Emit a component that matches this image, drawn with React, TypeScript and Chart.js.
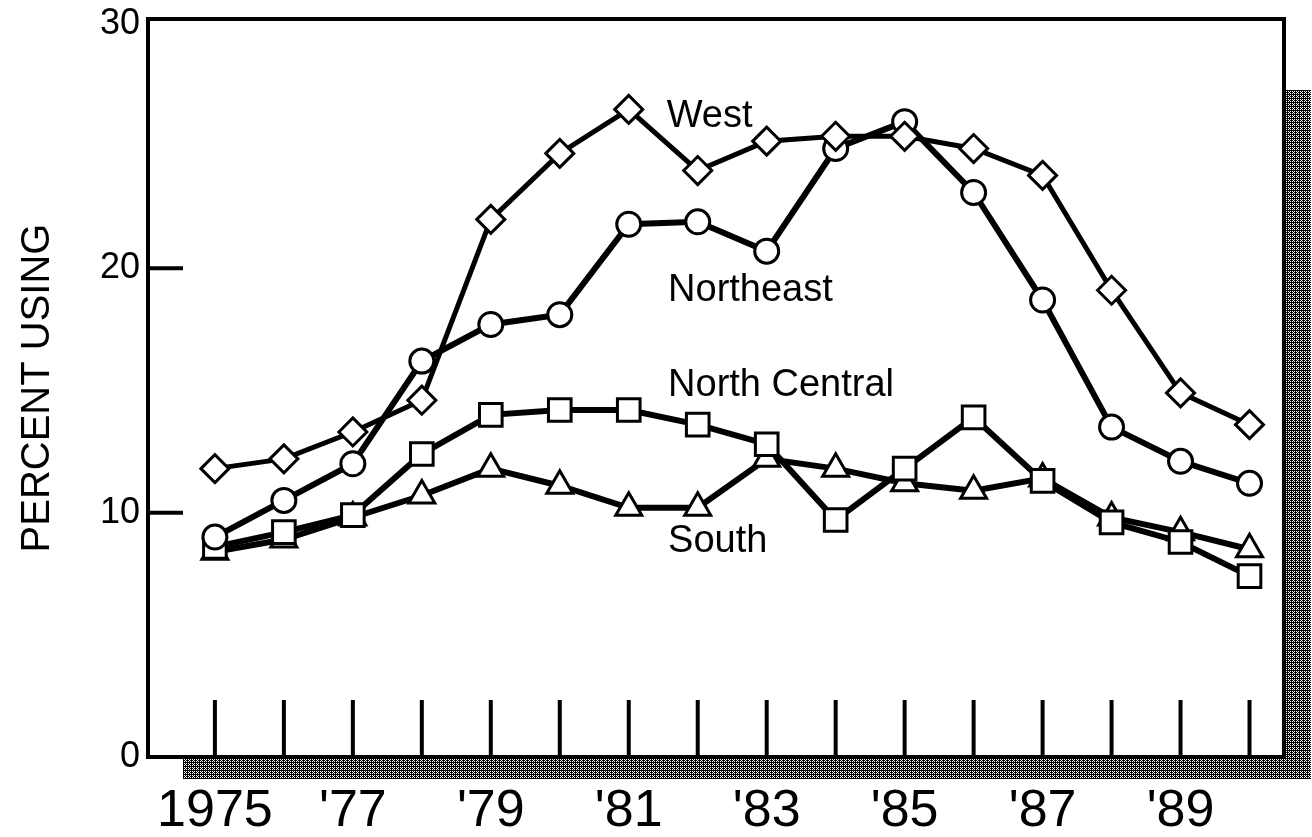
import React, { useEffect, useRef } from 'react';
import { Chart, registerables } from 'chart.js';

Chart.register(...registerables);

const FONT = '"Liberation Sans", Arial, Helvetica, sans-serif';

const years = [1975, 1976, 1977, 1978, 1979, 1980, 1981, 1982, 1983, 1984, 1985, 1986, 1987, 1988, 1989, 1990];
const west = [11.8, 12.2, 13.3, 14.6, 22.0, 24.7, 26.5, 24.0, 25.2, 25.4, 25.4, 24.9, 23.8, 19.1, 14.9, 13.6];
const northeast = [9.0, 10.5, 12.0, 16.2, 17.7, 18.1, 21.8, 21.9, 20.7, 24.9, 26.0, 23.1, 18.7, 13.5, 12.1, 11.2];
const northCentral = [8.6, 9.2, 9.9, 12.4, 14.0, 14.2, 14.2, 13.6, 12.8, 9.7, 11.8, 13.9, 11.3, 9.6, 8.8, 7.4];
const south = [8.4, 8.9, 9.8, 10.7, 11.8, 11.1, 10.2, 10.2, 12.2, 11.8, 11.2, 10.9, 11.4, 9.8, 9.2, 8.5];

const xTickLabels: Record<number, string> = {
  1975: '1975',
  1977: "'77",
  1979: "'79",
  1981: "'81",
  1983: "'83",
  1985: "'85",
  1987: "'87",
  1989: "'89",
};
const yInnerTicks = [10, 20];

const seriesNames = ['West', 'Northeast', 'North Central', 'South'];
const noteX = [1981.55, 1981.57, 1981.57, 1981.57];
const noteY = [26.2, 19.1, 15.2, 8.8];

const toPoints = (vals: number[]) => vals.map((v, i) => ({ x: years[i], y: v }));

export default function App() {
  const ref = useRef<HTMLCanvasElement | null>(null);

  useEffect(() => {
    if (!ref.current) return;

    const pc = document.createElement('canvas');
    pc.width = 4;
    pc.height = 4;
    const p = pc.getContext('2d')!;
    p.fillStyle = '#fff';
    p.fillRect(0, 0, 4, 4);
    p.fillStyle = '#000';
    for (let i = 0; i < 4; i++) {
      for (let j = 0; j < 4; j++) {
        if ((i + j) % 2 === 0 || (i === 1 && j === 2) || (i === 3 && j === 0) || (i === 3 && j === 2)) p.fillRect(i, j, 1, 1);
      }
    }

    const framePlugin = {
      id: 'framePlugin',
      beforeDraw(chart: any) {
        const { ctx, chartArea: a } = chart;
        ctx.save();
        ctx.fillStyle = '#fff';
        ctx.fillRect(0, 0, chart.width, chart.height);
        const pat = ctx.createPattern(pc, 'repeat');
        ctx.fillStyle = pat || '#666';
        ctx.fillRect(a.right, a.top + 71, 27, a.bottom - a.top - 71 + 22);
        ctx.fillRect(a.left + 35, a.bottom, a.right - a.left - 35 + 27, 22);
        ctx.restore();
      },
      beforeDatasetsDraw(chart: any) {
        const { ctx, chartArea: a, scales } = chart;
        const xs = scales.x;
        const ys = scales.y;
        ctx.save();
        ctx.strokeStyle = '#000';
        ctx.lineWidth = 4;
        ctx.lineCap = 'butt';
        xs.ticks.forEach((t: any) => {
          if (!Number.isInteger(t.value)) return;
          const x = xs.getPixelForValue(t.value);
          ctx.beginPath();
          ctx.moveTo(x, a.bottom);
          ctx.lineTo(x, a.bottom - 57);
          ctx.stroke();
        });
        yInnerTicks.forEach((v) => {
          const y = ys.getPixelForValue(v);
          ctx.beginPath();
          ctx.moveTo(a.left, y);
          ctx.lineTo(a.left + 35, y);
          ctx.stroke();
        });
        ctx.lineWidth = 4;
        ctx.lineJoin = 'miter';
        ctx.strokeRect(a.left, a.top, a.right - a.left, a.bottom - a.top);
        ctx.restore();
      },
      afterDatasetsDraw(chart: any) {
        const { ctx, scales } = chart;
        ctx.save();
        ctx.fillStyle = '#000';
        ctx.font = `38px ${FONT}`;
        ctx.textAlign = 'left';
        ctx.textBaseline = 'middle';
        seriesNames.forEach((name, i) => {
          ctx.fillText(name, scales.x.getPixelForValue(noteX[i]), scales.y.getPixelForValue(noteY[i]));
        });
        ctx.restore();
      },
    };

    const common = {
      borderColor: '#000',
      borderWidth: 6,
      pointBackgroundColor: '#fff',
      pointBorderColor: '#000',
      pointBorderWidth: 3,
      tension: 0,
      fill: false,
    };

    const chart = new Chart(ref.current, {
      type: 'line',
      data: {
        datasets: [
          { ...common, label: 'West', data: toPoints(west), pointStyle: 'rectRot', pointRadius: 14, borderWidth: 5 },
          { ...common, label: 'Northeast', data: toPoints(northeast), pointStyle: 'circle', pointRadius: 12 },
          { ...common, label: 'North Central', data: toPoints(northCentral), pointStyle: 'rect', pointRadius: 16 },
          { ...common, label: 'South', data: toPoints(south), pointStyle: 'triangle', pointRadius: 15 },
        ],
      },
      options: {
        responsive: false,
        animation: false,
        events: [],
        layout: { padding: { left: 0, top: 15, right: 28, bottom: 0 } },
        plugins: {
          legend: { display: false },
          tooltip: { enabled: false },
        },
        scales: {
          x: {
            type: 'linear',
            min: 1974.03,
            max: 1990.5,
            grid: { display: false, drawTicks: false },
            border: { display: false },
            ticks: {
              stepSize: 1,
              includeBounds: false,
              autoSkip: false,
              maxRotation: 0,
              padding: 23,
              color: '#000',
              font: { family: FONT, size: 52 },
              callback: (v: any) => xTickLabels[v as number] ?? '',
            },
            afterFit: (s: any) => {
              s.height = 80;
              s.paddingLeft = 0;
              s.paddingRight = 0;
            },
          },
          y: {
            type: 'linear',
            min: 0,
            max: 30.2,
            grid: { display: false, drawTicks: false },
            border: { display: false },
            ticks: {
              stepSize: 10,
              includeBounds: false,
              padding: 8,
              color: '#000',
              font: { family: FONT, size: 36 },
            },
            title: {
              display: true,
              text: 'PERCENT USING',
              color: '#000',
              font: { family: FONT, size: 40 },
              padding: { top: 14, bottom: 0 },
            },
            afterFit: (s: any) => {
              s.width = 148;
              s.paddingTop = 0;
              s.paddingBottom = 0;
            },
          },
        },
      },
      plugins: [framePlugin],
    });

    return () => chart.destroy();
  }, []);

  return (
    <div style={{ position: 'absolute', left: 0, top: 0, width: 1312, height: 837, background: '#fff' }}>
      <canvas ref={ref} width={1312} height={837} />
    </div>
  );
}
